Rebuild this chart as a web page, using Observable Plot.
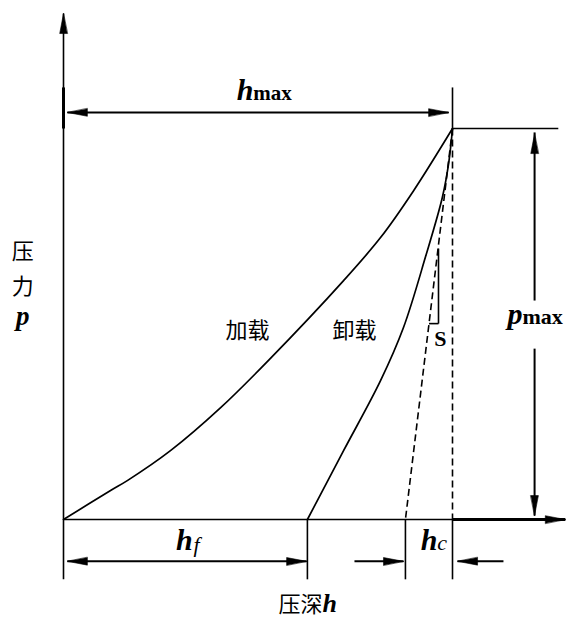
<!DOCTYPE html>
<html>
<head>
<meta charset="utf-8">
<script src="https://cdn.jsdelivr.net/npm/d3@7"></script>
<script src="https://cdn.jsdelivr.net/npm/@observablehq/plot@0.6"></script>
<style>
  body { margin: 0; background: #fff; }
</style>
</head>
<body>
<div id="chart"></div>
<script>
// Indentation load–depth record, depth as h/hmax and load as p/pmax.
const loadDepth   = [0, 0.121, 0.165, 0.275, 0.404, 0.527, 0.720, 0.815, 0.900, 1];
const loadForce   = [0, 0.074, 0.100, 0.176, 0.286, 0.407, 0.611, 0.721, 0.841, 1];
const unloadDepth = [0.627, 0.720, 0.815, 0.874, 0.931, 0.974, 0.990, 1];
const unloadForce = [0, 0.176, 0.355, 0.491, 0.673, 0.824, 0.910, 1];

// Characteristic depths and loads
const hMax = 1;          // maximum depth
const pMax = 1;          // maximum load
const hF = 0.627;        // residual depth after unloading
const hTangent = 0.879;  // where the unloading tangent (stiffness S) meets p = 0
const slopeTop = 0.693, slopeBase = 0.501, slopeCol = 0.964; // little S triangle

// Where the frame, extension and dimension lines sit (same units)
const axisTop = 1.294, axisEnd = 1.290;
const extAbove = 1.105, extBelow = -0.153;
const hmaxRow = 1.041, dimRow = -0.107;
const pmaxCol = 1.211, pmaxGapTop = 0.560, pmaxGapBottom = 0.437;
const pmaxLineEnd = 1.272;
const inset = 0.010;
const hcLeftStart = 0.748, hcRightStart = 1.131;

const curve = (hs, ps) => hs.map((h, i) => ({h, p: ps[i]}));
const seg = (x1, y1, x2, y2) => ({x1, y1, x2, y2});

const tangentAt = (p) => hTangent + (hMax - hTangent) * p / pMax;

const thinLines = [
  seg(0, extBelow, 0, axisTop),
  seg(0, 0, axisEnd, 0),
  seg(hMax, pMax, pmaxLineEnd, pMax),
  seg(hMax, pMax, hMax, extAbove),
  seg(hF, 0, hF, extBelow),
  seg(hTangent, 0, hTangent, extBelow),
  seg(hMax, 0, hMax, extBelow),
  seg(slopeCol, slopeTop, slopeCol, slopeBase),
  seg(tangentAt(slopeBase), slopeBase, slopeCol, slopeBase)
];
const heavyLines = [
  seg(0, pMax, 0, extAbove),
  seg(hMax, 0, axisEnd, 0)
];
const dimLines = [
  seg(inset, hmaxRow, hMax - inset, hmaxRow),
  seg(pmaxCol, pMax - inset, pmaxCol, pmaxGapTop),
  seg(pmaxCol, pmaxGapBottom, pmaxCol, inset),
  seg(inset, dimRow, hF - 0.002, dimRow),
  seg(hcLeftStart, dimRow, hTangent - 0.005, dimRow),
  seg(hcRightStart, dimRow, hMax + 0.013, dimRow)
];
const dashedLines = [
  seg(hMax, pMax, hMax, 0),
  seg(hMax, pMax, hTangent, 0)
];
// arrow tips: position and heading (0 = up, 90 = right)
const heads = [
  {h: 0, p: axisTop, dir: 0},
  {h: axisEnd, p: 0, dir: 90},
  {h: inset, p: hmaxRow, dir: -90},
  {h: hMax - inset, p: hmaxRow, dir: 90},
  {h: pmaxCol, p: pMax - 0.013, dir: 0},
  {h: pmaxCol, p: inset, dir: 180},
  {h: inset, p: dimRow, dir: -90},
  {h: hF - 0.002, p: dimRow, dir: 90},
  {h: hTangent - 0.005, p: dimRow, dir: 90},
  {h: hMax + 0.013, p: dimRow, dir: -90}
];

// labels
const cjkLabels = [
  {h: -0.105, p: 0.685, t: "压"},
  {h: -0.105, p: 0.595, t: "力"},
  {h: 0.473, p: 0.481, t: "加载"},
  {h: 0.748, p: 0.481, t: "卸载"}
];
const symbolMain = [   // bold italic letters, right end at h
  {h: 0.488, p: 1.072, t: "h"},
  {h: 1.180, p: 0.501, t: "p"},
  {h: 0.332, p: -0.079, t: "h"},
  {h: 0.961, p: -0.079, t: "h"}
];
const maxSubs = [      // "max" subscripts, left end at h
  {h: 0.488, p: 1.072, t: "max", f: 21},
  {h: 1.180, p: 0.501, t: "max", f: 22}
];
const italicSubs = [
  {h: 0.334, p: -0.083, t: "f"},
  {h: 0.961, p: -0.079, t: "c"}
];

const serif = "'Liberation Serif', 'DejaVu Serif', serif";
const cjk = "'Noto Sans CJK SC', sans-serif";

const arrowHead = {
  draw(context, l) {
    context.moveTo(0, -l);
    context.lineTo(-3.8, 0);
    context.lineTo(3.8, 0);
    context.closePath();
  }
};

const links = (data, opts) => Plot.link(data, {x1: "x1", y1: "y1", x2: "x2", y2: "y2", stroke: "black", ...opts});

const chart = Plot.plot({
  width: 569,
  height: 620,
  x: {domain: [0, 1], range: [63, 452], axis: null},
  y: {domain: [0, 1], range: [519, 128], axis: null},
  style: {background: "#fff"},
  marks: [
    links(thinLines, {strokeWidth: 1.6}),
    links(heavyLines, {strokeWidth: 3}),
    links(dimLines, {strokeWidth: 2}),
    links(dashedLines, {strokeWidth: 1.6, strokeDasharray: "7,4"}),
    Plot.line(curve(loadDepth, loadForce), {x: "h", y: "p", curve: "catmull-rom", stroke: "black", strokeWidth: 1.7}),
    Plot.line(curve(unloadDepth, unloadForce), {x: "h", y: "p", curve: "catmull-rom", stroke: "black", strokeWidth: 1.7}),
    Plot.vector(heads, {x: "h", y: "p", rotate: "dir", length: 20, anchor: "end", shape: arrowHead, fill: "black", stroke: "black", strokeWidth: 0.6}),
    Plot.text(cjkLabels, {x: "h", y: "p", text: "t", fontFamily: cjk, fontSize: 22, fill: "black"}),
    Plot.text([{h: -0.105, p: 0.520, t: "p"}], {x: "h", y: "p", text: "t", fontFamily: serif, fontSize: 27, fontWeight: "bold", fontStyle: "italic", fill: "black"}),
    Plot.text([{h: 0.969, p: 0.463, t: "S"}], {x: "h", y: "p", text: "t", fontFamily: serif, fontSize: 22, fontWeight: "bold", fill: "black"}),
    Plot.text(symbolMain, {x: "h", y: "p", text: "t", textAnchor: "end", lineAnchor: "bottom", fontFamily: serif, fontSize: 30, fontWeight: "bold", fontStyle: "italic", fill: "black"}),
    Plot.text(maxSubs, {x: "h", y: "p", text: "t", textAnchor: "start", lineAnchor: "bottom", fontFamily: serif, fontSize: "f", fontWeight: "bold", fill: "black"}),
    Plot.text(italicSubs, {x: "h", y: "p", text: "t", textAnchor: "start", lineAnchor: "bottom", fontFamily: serif, fontSize: 22, fontStyle: "italic", fill: "black"}),
    Plot.text([{h: 0.666, p: -0.237, t: "压深"}], {x: "h", y: "p", text: "t", textAnchor: "end", lineAnchor: "bottom", fontFamily: cjk, fontSize: 22, fill: "black"}),
    Plot.text([{h: 0.666, p: -0.237, t: "h"}], {x: "h", y: "p", text: "t", textAnchor: "start", lineAnchor: "bottom", fontFamily: serif, fontSize: 26, fontWeight: "bold", fontStyle: "italic", fill: "black"})
  ]
});
document.getElementById("chart").append(chart);
</script>
</body>
</html>
